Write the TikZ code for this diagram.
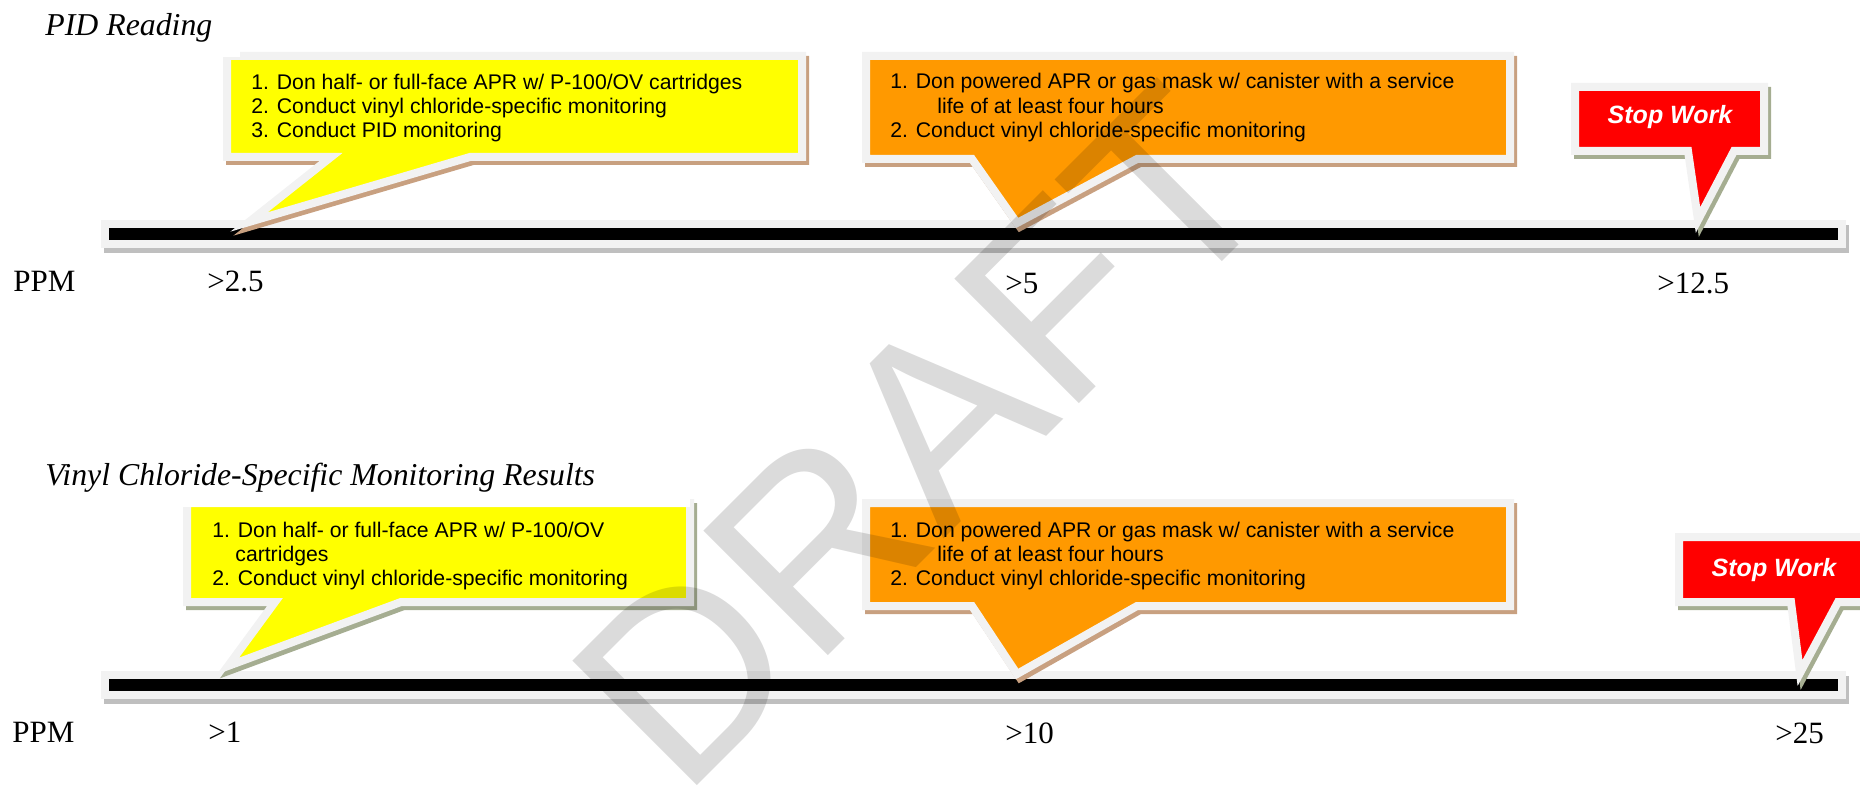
\documentclass[tikz,border=0pt]{standalone}
\usepackage{fontspec}
\setmainfont{Liberation Serif}
\newfontfamily\arialf{Liberation Sans}
\definecolor{rimgray}{HTML}{F2F2F2}
\definecolor{brownsh}{HTML}{C8A080}
\definecolor{greensh}{HTML}{A5AD91}
\definecolor{barsh}{HTML}{BFBFBF}
\definecolor{cyellow}{HTML}{FFFF00}
\definecolor{corange}{HTML}{FF9900}
\definecolor{cred}{HTML}{FF0000}
\tikzset{
  rim/.style={draw=rimgray, line width=4pt, line join=miter},
  shadowpath/.style={fill=#1, draw=#1, line width=4pt, line join=miter, shift={(3,4)}},
  calltext/.style={font=\arialf\fontsize{10.6}{12}\selectfont, anchor=base west, inner sep=0pt},
  stoptext/.style={font=\arialf\bfseries\itshape\fontsize{12.5}{14}\selectfont, text=white, anchor=base, inner sep=0pt},
  titletext/.style={font=\itshape\fontsize{15.9}{18}\selectfont, anchor=base west, inner sep=0pt},
  ticklabel/.style={font=\fontsize{15.5}{18}\selectfont, anchor=base west, inner sep=0pt},
  watermark/.style={font=\arialf\fontsize{128}{128}\selectfont, text=black, text opacity=0.14, inner sep=0pt},
}
\begin{document}
\begin{tikzpicture}[x=0.5pt, y=-0.5pt]
\useasboundingbox (0,0) rectangle (1860,792);
\clip (0,0) rectangle (1860,792);
% axes
\foreach \yy in {224,675}{
  \filldraw[fill=barsh, draw=barsh, line width=4pt, shift={(3,5)}] (105,\yy) rectangle (1842,\yy+20);
  \filldraw[rim, fill=black] (105,\yy) rectangle (1842,\yy+20);
}
% callout shapes
\def\pyA{(227,56) -- (802,56) -- (802,157) -- (470,157) -- (249,222) -- (331,157) -- (227,157) -- cycle}
\def\poA{(866,56) -- (1510,56) -- (1510,159) -- (1137,159) -- (1017,223) -- (972,159) -- (866,159) -- cycle}
\def\psA{(1575,87) -- (1764,87) -- (1764,151) -- (1734,151) -- (1698,220) -- (1688,151) -- (1575,151) -- cycle}
\def\pyB{(187,503) -- (690,503) -- (690,602) -- (401,602) -- (228,666) -- (275,602) -- (187,602) -- cycle}
\def\poB{(866,503) -- (1510,503) -- (1510,606) -- (1137,606) -- (1017,674) -- (972,606) -- (866,606) -- cycle}
\def\psB{(1679,537) -- (1872,537) -- (1872,602) -- (1838,602) -- (1800,673) -- (1791,602) -- (1679,602) -- cycle}
\filldraw[shadowpath=brownsh] \pyA;  \filldraw[rim, fill=cyellow] \pyA;
\filldraw[shadowpath=brownsh] \poA;  \filldraw[rim, fill=corange] \poA;
\filldraw[shadowpath=greensh] \psA;  \filldraw[rim, fill=cred] \psA;
\filldraw[shadowpath=greensh] \pyB;  \filldraw[rim, fill=cyellow] \pyB;
\filldraw[shadowpath=brownsh] \poB;  \filldraw[rim, fill=corange] \poB;
\filldraw[shadowpath=greensh] \psB;  \filldraw[rim, fill=cred] \psB;
% title backgrounds
\fill[white] (0,0) rectangle (240,57);
\fill[white] (0,440) rectangle (690,507);
% titles
\node[titletext] (t1) at (45,36) {PID Reading};
\node[titletext] (t2) at (45,485) {Vinyl Chloride-Specific Monitoring Results};
% callout texts
\node[calltext] (ya1) at (251,90) {1. Don half- or full-face APR w/ P-100/OV cartridges};
\node[calltext] (ya2) at (251,114) {2. Conduct vinyl chloride-specific monitoring};
\node[calltext] (ya3) at (251,138) {3. Conduct PID monitoring};
\node[calltext] (oa1) at (890,89) {1. Don powered APR or gas mask w/ canister with a service};
\node[calltext] (oa2) at (937,114) {life of at least four hours};
\node[calltext] (oa3) at (890,138) {2. Conduct vinyl chloride-specific monitoring};
\node[stoptext] (sa) at (1670,124) {Stop Work};
\node[calltext] (yb1) at (212,537) {1. Don half- or full-face APR w/ P-100/OV};
\node[calltext] (yb2) at (235,561) {cartridges};
\node[calltext] (yb3) at (212,585) {2. Conduct vinyl chloride-specific monitoring};
\node[calltext] (ob1) at (890,537) {1. Don powered APR or gas mask w/ canister with a service};
\node[calltext] (ob2) at (937,561) {life of at least four hours};
\node[calltext] (ob3) at (890,585) {2. Conduct vinyl chloride-specific monitoring};
\node[stoptext] (sb) at (1774,576) {Stop Work};
% tick labels
\node[ticklabel] (ppm1) at (13,292) {PPM};
\node[ticklabel] (va1) at (207,292) {>2.5};
\node[ticklabel] (va2) at (1005,293) {>5};
\node[ticklabel] (va3) at (1657,293) {>12.5};
\node[ticklabel] (ppm2) at (12,742) {PPM};
\node[ticklabel] (vb1) at (208,742) {>1};
\node[ticklabel] (vb2) at (1005,743) {>10};
\node[ticklabel] (vb3) at (1775,743) {>25};
% watermark
\node[watermark, rotate=45] (wm) at (922,437) {DRAFT};
\end{tikzpicture}
\end{document}
